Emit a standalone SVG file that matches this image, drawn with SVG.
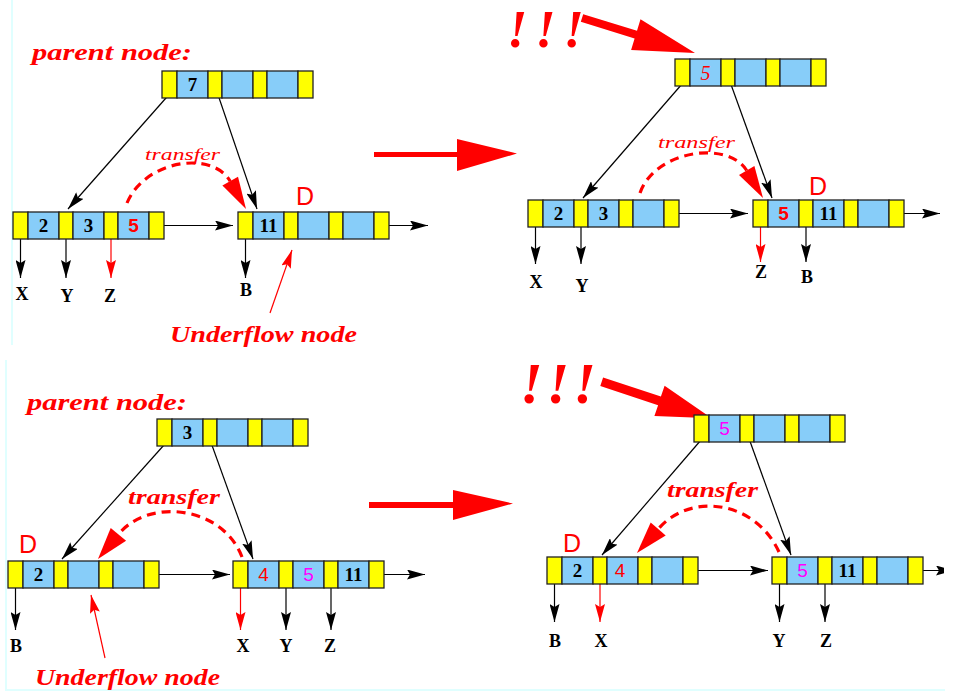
<svg xmlns="http://www.w3.org/2000/svg" xmlns:xlink="http://www.w3.org/1999/xlink" width="975" height="700" viewBox="0 0 975 700">
<style>
.y{fill:#ffff00;stroke:#222;stroke-width:1.3}
.b{fill:#87cdf9;stroke:#222;stroke-width:1.3}
.k{font-family:"Liberation Serif",serif;font-weight:bold;font-size:19px;text-anchor:middle;fill:#000}
.kr{font-family:"Liberation Sans",sans-serif;font-weight:bold;font-size:19px;text-anchor:middle;fill:#ff0000}
.kri{font-family:"Liberation Serif",serif;font-style:italic;font-size:20px;text-anchor:middle;fill:#ff0000}
.kn{font-family:"Liberation Sans",sans-serif;font-size:19px;text-anchor:middle;fill:#ff0000}
.km{font-family:"Liberation Sans",sans-serif;font-size:19px;text-anchor:middle;fill:#ff00ff}
.l{font-family:"Liberation Serif",serif;font-weight:bold;font-size:18px;text-anchor:middle;fill:#000}
.t{font-family:"Liberation Serif",serif;font-weight:bold;font-style:italic;fill:#ff0000}
.ts{font-family:"Liberation Serif",serif;font-style:italic;font-size:16px;fill:#ff0000}
.D{font-family:"Liberation Sans",sans-serif;font-size:25px;text-anchor:middle;fill:#ff0000}
.ex{font-family:"Liberation Serif",serif;font-weight:bold;font-style:italic;font-size:58px;fill:#ff0000;letter-spacing:4px}
.ex2{font-family:"Liberation Serif",serif;font-weight:bold;font-style:italic;font-size:52px;fill:#ff0000;letter-spacing:8px}
.p{fill:none;stroke:#000;stroke-width:1.2;marker-end:url(#ab)}
.pr{fill:none;stroke:#ff0000;stroke-width:1.2;marker-end:url(#ar)}
.arc{fill:none;stroke:#ff0000;stroke-width:3.2;stroke-dasharray:9 6}
.big{fill:#ff0000}
.bord{stroke:#e0ffff;stroke-width:2;fill:none}
</style>
<defs>
<marker id="ab" viewBox="0 0 18 10" refX="18" refY="5" markerWidth="18" markerHeight="10" markerUnits="userSpaceOnUse" orient="auto">
<path d="M0,0 L18,5 L0,10 L3,5 z" fill="#000"/>
</marker>
<marker id="ar" viewBox="0 0 18 10" refX="18" refY="5" markerWidth="18" markerHeight="10" markerUnits="userSpaceOnUse" orient="auto">
<path d="M0,0 L18,5 L0,10 L3,5 z" fill="#ff0000"/>
</marker>
<g id="bn">
<rect class="y" x="0" y="0" width="15" height="27"/>
<rect class="b" x="15" y="0" width="31" height="27"/>
<rect class="y" x="46" y="0" width="14" height="27"/>
<rect class="b" x="60" y="0" width="31" height="27"/>
<rect class="y" x="91" y="0" width="14" height="27"/>
<rect class="b" x="105" y="0" width="31" height="27"/>
<rect class="y" x="136" y="0" width="15" height="27"/>
</g>
<clipPath id="clipR"><rect x="0" y="0" width="944" height="700"/></clipPath>
</defs>

<g id="borders">
<path class="bord" d="M12,0 V345"/>
<path class="bord" d="M6,360 V690 H945"/>
</g>

<g id="connectors">
<!-- top-left -->
<path class="p" d="M169.5,94 L68,209"/>
<path class="p" d="M215,86 L257,209"/>
<path class="p" d="M156.5,225.5 H233"/>
<path class="p" d="M381.5,225.5 H428"/>
<path class="p" d="M20.5,225.5 V278"/>
<path class="p" d="M66,225.5 V278"/>
<path class="pr" d="M111,225.5 V278"/>
<path class="p" d="M245.5,225.5 V278"/>
<path class="pr" d="M270,313 L292,250"/>
<path class="arc" d="M127,203 C145,160 212,150 230.2,181.2"/>
<polygon class="big" points="246,209 222.4,185.6 238,176.8"/>
<!-- top-right -->
<path class="p" d="M682,84 L583,198"/>
<path class="p" d="M729,79 L772,198"/>
<path class="p" d="M671.5,213.5 H748"/>
<path class="p" d="M896.5,213.5 H940"/>
<path class="p" d="M535.5,213.5 V264"/>
<path class="p" d="M581,213.5 V264"/>
<path class="pr" d="M760.5,213.5 V262"/>
<path class="p" d="M806,213.5 V262"/>
<path class="arc" d="M640,193 C655,150 728,140 746.7,170.5"/>
<polygon class="big" points="763,198 739,175.1 754.4,165.9"/>
<polygon class="big" points="583.2,14.2 637,30.8 640.5,19.3 695,53 631.1,49.9 634.6,38.4 580.8,21.8"/>
<!-- bottom-left -->
<path class="p" d="M164,445 L62,559"/>
<path class="p" d="M209,437 L253,559"/>
<path class="p" d="M151.5,574.5 H230"/>
<path class="p" d="M376.5,574.5 H425"/>
<path class="p" d="M15.5,574.5 V630"/>
<path class="pr" d="M240.5,574.5 V630"/>
<path class="p" d="M286,574.5 V630"/>
<path class="p" d="M331,574.5 V630"/>
<path class="pr" d="M105,658 L91,595"/>
<path class="arc" d="M242,557 C222,505 148,498 118.4,534.3"/>
<polygon class="big" points="98,559 110.7,527.9 126.1,540.7"/>
<!-- bottom-right -->
<path class="p" d="M701,440 L602,555"/>
<path class="p" d="M747,433 L791,555"/>
<path class="p" d="M690.5,570.5 H768"/>
<path class="p" d="M915.5,570.5 H954" clip-path="url(#clipR)"/>
<path class="p" d="M554.5,570.5 V622"/>
<path class="pr" d="M600,570.5 V622"/>
<path class="p" d="M779.5,570.5 V622"/>
<path class="p" d="M825,570.5 V622"/>
<path class="arc" d="M779,552 C755,500 690,492 658.2,529"/>
<polygon class="big" points="637,553 650.7,522.4 665.7,535.6"/>
<polygon class="big" points="603.1,377.4 660.9,396.6 664.6,385.7 711.7,418.3 654.4,416.1 658.1,405.2 600.3,386"/>
<!-- big transition arrows -->
<polygon class="big" points="374,152 457,152 457,139 517,153.5 457,171 457,157 374,157"/>
<polygon class="big" points="369,502 453,502 453,490 513,503.5 453,520 453,508 369,508"/>
</g>

<g id="tl-parent">
<use xlink:href="#bn" x="162" y="71"/>
<text class="k" x="192.5" y="91">7</text>
</g>
<g id="tl-left">
<use xlink:href="#bn" x="13" y="212"/>
<text class="k" x="43.5" y="232">2</text>
<text class="k" x="88.5" y="232">3</text>
<text class="kr" x="133.5" y="232">5</text>
</g>
<g id="tl-right">
<use xlink:href="#bn" x="238" y="212"/>
<text class="k" x="268.5" y="232">11</text>
</g>
<g id="tr-parent">
<use xlink:href="#bn" x="675" y="59"/>
<text class="kri" x="705.5" y="80">5</text>
</g>
<g id="tr-left">
<use xlink:href="#bn" x="528" y="200"/>
<text class="k" x="558.5" y="220">2</text>
<text class="k" x="603.5" y="220">3</text>
</g>
<g id="tr-right">
<use xlink:href="#bn" x="753" y="200"/>
<text class="kr" x="783.5" y="220">5</text>
<text class="k" x="828.5" y="220">11</text>
</g>
<g id="bl-parent">
<use xlink:href="#bn" x="157" y="419"/>
<text class="k" x="187.5" y="439">3</text>
</g>
<g id="bl-left">
<use xlink:href="#bn" x="8" y="561"/>
<text class="k" x="38.5" y="581">2</text>
</g>
<g id="bl-right">
<use xlink:href="#bn" x="233" y="561"/>
<text class="kn" x="263.5" y="581">4</text>
<text class="km" x="308.5" y="581">5</text>
<text class="k" x="353.5" y="581">11</text>
</g>
<g id="br-parent">
<use xlink:href="#bn" x="694" y="415"/>
<text class="km" x="724.5" y="435">5</text>
</g>
<g id="br-left">
<use xlink:href="#bn" x="547" y="557"/>
<text class="k" x="577.5" y="577">2</text>
<text class="kn" x="620" y="577">4</text>
</g>
<g id="br-right">
<use xlink:href="#bn" x="772" y="557"/>
<text class="km" x="802.5" y="577">5</text>
<text class="k" x="847.5" y="577">11</text>
</g>

<g id="labels">
<text class="t" x="32" y="60" font-size="24" textLength="160" lengthAdjust="spacingAndGlyphs">parent node:</text>
<text class="t" x="170" y="342" font-size="24" textLength="187" lengthAdjust="spacingAndGlyphs">Underflow node</text>
<text class="ts" x="145" y="160" textLength="75" lengthAdjust="spacingAndGlyphs">transfer</text>
<text class="D" x="305" y="205">D</text>
<text class="l" x="22" y="300">X</text>
<text class="l" x="67" y="302">Y</text>
<text class="l" x="110" y="302">Z</text>
<text class="l" x="246" y="296">B</text>

<text class="ex2" x="507" y="47">!!!</text>
<text class="ts" x="658" y="148" textLength="77" lengthAdjust="spacingAndGlyphs">transfer</text>
<text class="D" x="818" y="195">D</text>
<text class="l" x="536" y="288">X</text>
<text class="l" x="582" y="292">Y</text>
<text class="l" x="761" y="278">Z</text>
<text class="l" x="807" y="283">B</text>

<text class="t" x="27" y="410" font-size="24" textLength="160" lengthAdjust="spacingAndGlyphs">parent node:</text>
<text class="t" x="35" y="685" font-size="24" textLength="185" lengthAdjust="spacingAndGlyphs">Underflow node</text>
<text class="t" x="128" y="504" font-size="21" textLength="92" lengthAdjust="spacingAndGlyphs">transfer</text>
<text class="D" x="28" y="553">D</text>
<text class="l" x="16" y="652">B</text>
<text class="l" x="243" y="652">X</text>
<text class="l" x="286" y="652">Y</text>
<text class="l" x="330" y="652">Z</text>

<text class="ex" x="520" y="403">!!!</text>
<text class="t" x="667" y="497" font-size="21" textLength="91" lengthAdjust="spacingAndGlyphs">transfer</text>
<text class="D" x="572" y="552">D</text>
<text class="l" x="555" y="647">B</text>
<text class="l" x="601" y="647">X</text>
<text class="l" x="779" y="647">Y</text>
<text class="l" x="826" y="647">Z</text>
</g>
</svg>
